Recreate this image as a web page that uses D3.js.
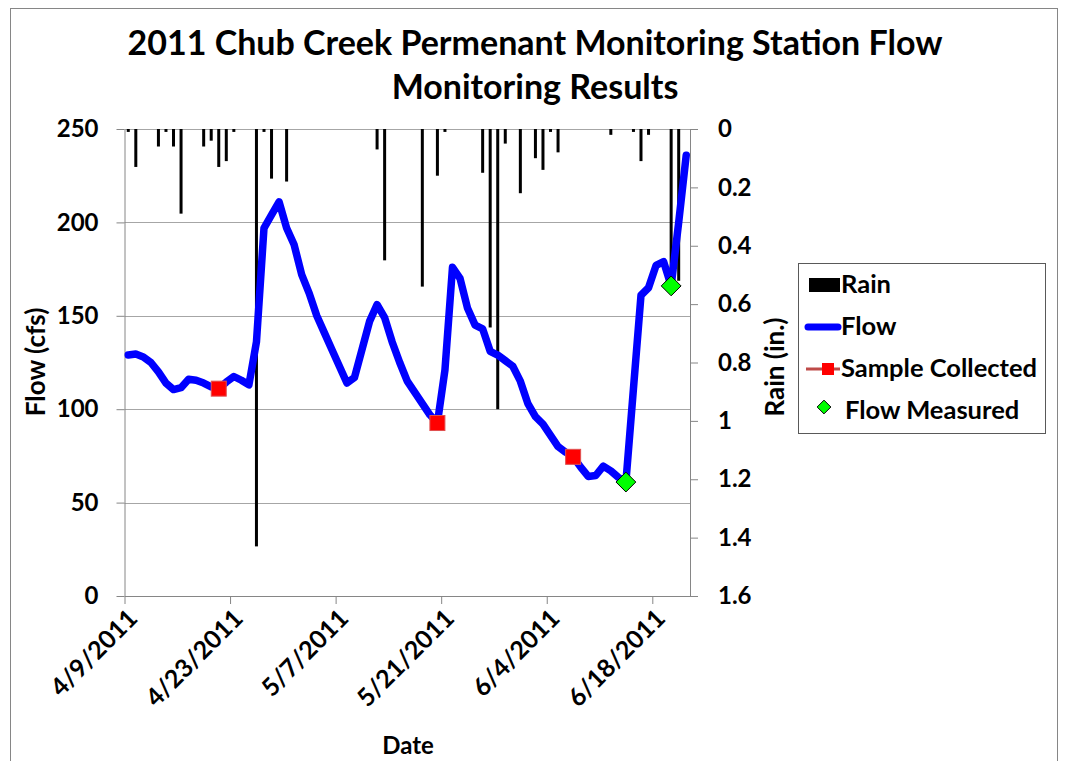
<!DOCTYPE html>
<html>
<head>
<meta charset="utf-8">
<script src="https://cdn.jsdelivr.net/npm/d3@7"></script>
<style>
body { margin: 0; background: #fff; }
svg { display: block; font-family: Lato, "Open Sans", sans-serif; font-weight: bold; }
</style>
</head>
<body>
<svg id="chart" width="1065" height="761"></svg>
<script>
// daily flow (cfs), one value per day starting 4/9/2011
var flowStart = '4/9/2011';
var flowCfs = [
    129, 129.5, 128, 125, 120, 114, 110.5, 111.5, 116, 115.5,
    114, 112, 111, 114.5, 117.5, 115.5, 113, 136, 197, 204,
    211, 197, 188, 172, 162, 150, 141, 132, 123, 114,
    117, 132, 147, 156, 149, 136, 125, 115, 109, 103,
    97, 92.6, 121, 176, 170, 154, 145, 143, 131, 129,
    126, 123, 115, 103, 96, 92, 86, 80, 77, 74.5,
    69, 64, 64.5, 69.5, 67, 63.5, 61, 111, 161, 165,
    177, 179, 166, 200, 236
];

// daily rain (in.)
var rainDates = [
    '4/9/2011', '4/10/2011', '4/13/2011', '4/14/2011', '4/15/2011', '4/16/2011',
    '4/19/2011', '4/20/2011', '4/21/2011', '4/22/2011', '4/23/2011', '4/26/2011',
    '4/27/2011', '4/28/2011', '4/30/2011', '5/12/2011', '5/13/2011', '5/18/2011',
    '5/20/2011', '5/21/2011', '5/26/2011', '5/27/2011', '5/28/2011', '5/29/2011',
    '5/31/2011', '6/2/2011', '6/3/2011', '6/4/2011', '6/5/2011', '6/12/2011',
    '6/15/2011', '6/16/2011', '6/17/2011', '6/20/2011', '6/21/2011'
];
var rainInches = [
    0.01, 0.13, 0.06, 0.01, 0.06, 0.29,
    0.06, 0.04, 0.13, 0.11, 0.01, 1.43,
    0.01, 0.17, 0.18, 0.07, 0.45, 0.54,
    0.16, 0.01, 0.15, 0.68, 0.96, 0.05,
    0.22, 0.10, 0.14, 0.01, 0.08, 0.02,
    0.01, 0.11, 0.02, 0.53, 0.52
];

var sampleDates = ['4/21/2011', '5/20/2011', '6/7/2011'];
var sampleCfs = [111, 92.6, 74.5];

var measuredDates = ['6/14/2011', '6/20/2011'];
var measuredCfs = [61, 166];

var dateTicks = ['4/9/2011', '4/23/2011', '5/7/2011', '5/21/2011', '6/4/2011', '6/18/2011'];
var flowTicks = [0, 50, 100, 150, 200, 250];
var rainTicks = [0, 0.2, 0.4, 0.6, 0.8, 1, 1.2, 1.4, 1.6];

var legendLabels = ['Rain', 'Flow', 'Sample Collected', 'Flow Measured'];

var parse = d3.timeParse('%m/%d/%Y');
var fmt = d3.timeFormat('%-m/%-d/%Y');

var svg = d3.select('#chart');
var plotL = 124.5, plotR = 690, plotT = 129, plotB = 596;

var x = d3.scaleTime()
    .domain([parse('4/9/2011'), parse('6/23/2011')])
    .range([plotL, plotR]);
// each day sits in the middle of its slot
function xc(d) { return x(d3.timeHour.offset(d, 12)); }

var yFlow = d3.scaleLinear().domain([0, 250]).range([plotB, plotT]);
var yRain = d3.scaleLinear().domain([0, 1.6]).range([plotT, plotB]);

// chart frame
svg.append('rect')
    .attr('x', 10.5).attr('y', 8.5)
    .attr('width', 1047).attr('height', 800)
    .attr('fill', '#fff').attr('stroke', '#868686');

// title
var title = svg.append('text')
    .attr('text-anchor', 'middle')
    .attr('font-size', 34);
title.append('tspan').attr('x', 535).attr('y', 55)
    .text('2011 Chub Creek Permenant Monitoring Station Flow');
title.append('tspan').attr('x', 535).attr('y', 99)
    .text('Monitoring Results');

// gridlines
svg.append('g')
    .selectAll('line')
    .data(flowTicks.slice(1))
    .enter().append('line')
    .attr('x1', plotL).attr('x2', plotR)
    .attr('y1', function(d) { return Math.round(yFlow(d)) + 0.5; })
    .attr('y2', function(d) { return Math.round(yFlow(d)) + 0.5; })
    .attr('stroke', '#a6a6a6');

// axes
function styleAxis(g) {
    g.attr('font-size', 24).attr('font-family', null);
    g.selectAll('.domain').attr('stroke', '#868686');
    g.selectAll('.tick line').attr('stroke', '#868686');
    g.selectAll('text').attr('fill', '#000');
}

svg.append('g')
    .attr('transform', 'translate(' + plotL + ',0)')
    .call(d3.axisLeft(yFlow).tickValues(flowTicks).tickSize(8).tickSizeOuter(0).tickPadding(18))
    .call(styleAxis);

svg.append('g')
    .attr('transform', 'translate(' + plotR + ',0)')
    .call(d3.axisRight(yRain).tickValues(rainTicks).tickSize(8).tickSizeOuter(0).tickPadding(20)
        .tickFormat(function(d) { return +d.toFixed(1); }))
    .call(styleAxis);

var xAxis = svg.append('g')
    .attr('transform', 'translate(0,' + plotB + ')')
    .call(d3.axisBottom(x).tickValues(dateTicks.map(parse)).tickSize(8).tickSizeOuter(0).tickFormat(fmt))
    .call(styleAxis)
    .attr('font-size', 25);
xAxis.selectAll('.tick text')
    .attr('text-anchor', 'end')
    .attr('dy', null)
    .attr('y', 0)
    .attr('transform', 'translate(14,24) rotate(-45)');

// rain bars
svg.append('g')
    .selectAll('rect')
    .data(rainDates)
    .enter().append('rect')
    .attr('x', function(d) { return xc(parse(d)) - 1.5; })
    .attr('y', plotT)
    .attr('width', 3)
    .attr('height', function(d, i) { return Math.max(2, yRain(rainInches[i]) - plotT); })
    .attr('fill', '#000');

// flow line
var line = d3.line()
    .x(function(d, i) { return xc(d3.timeDay.offset(parse(flowStart), i)); })
    .y(function(d) { return yFlow(d); });
svg.append('path')
    .datum(flowCfs)
    .attr('d', line)
    .attr('fill', 'none')
    .attr('stroke', '#0000ff')
    .attr('stroke-width', 7.5)
    .attr('stroke-linejoin', 'round')
    .attr('stroke-linecap', 'round');

// sample markers
svg.append('g')
    .selectAll('rect')
    .data(sampleDates)
    .enter().append('rect')
    .attr('x', function(d) { return xc(parse(d)) - 7.5; })
    .attr('y', function(d, i) { return yFlow(sampleCfs[i]) - 7.5; })
    .attr('width', 15).attr('height', 15)
    .attr('fill', '#ff0000')
    .attr('stroke', '#e05050').attr('stroke-width', 1);

// flow measured markers
var diamond = d3.symbol().type(d3.symbolDiamond2).size(250);
svg.append('g')
    .selectAll('path')
    .data(measuredDates)
    .enter().append('path')
    .attr('transform', function(d, i) {
        return 'translate(' + xc(parse(d)) + ',' + yFlow(measuredCfs[i]) + ')';
    })
    .attr('d', diamond)
    .attr('fill', '#00ff00')
    .attr('stroke', '#000').attr('stroke-width', 1);

// axis titles
svg.append('text')
    .attr('transform', 'translate(45,362) rotate(-90)')
    .attr('text-anchor', 'middle').attr('font-size', 26)
    .text('Flow (cfs)');
svg.append('text')
    .attr('transform', 'translate(784,367) rotate(-90)')
    .attr('text-anchor', 'middle').attr('font-size', 26)
    .text('Rain (in.)');
svg.append('text')
    .attr('x', 408).attr('y', 754)
    .attr('text-anchor', 'middle').attr('font-size', 24)
    .text('Date');

// legend
var lg = svg.append('g').attr('font-size', 25.5);
lg.append('rect')
    .attr('x', 798.5).attr('y', 263.5)
    .attr('width', 247).attr('height', 170)
    .attr('fill', '#fff').attr('stroke', '#595959');
var rowY = [285, 327, 369, 411];
lg.append('rect')
    .attr('x', 809).attr('y', rowY[0] - 7).attr('width', 31).attr('height', 14)
    .attr('fill', '#000');
lg.append('line')
    .attr('x1', 808).attr('x2', 838).attr('y1', rowY[1]).attr('y2', rowY[1])
    .attr('stroke', '#0000ff').attr('stroke-width', 7).attr('stroke-linecap', 'round');
lg.append('line')
    .attr('x1', 806).attr('x2', 840).attr('y1', rowY[2]).attr('y2', rowY[2])
    .attr('stroke', '#be4b48').attr('stroke-width', 3);
lg.append('rect')
    .attr('x', 822).attr('y', rowY[2] - 6).attr('width', 12).attr('height', 12)
    .attr('fill', '#ff0000');
lg.append('path')
    .attr('transform', 'translate(824,' + (rowY[3] - 4) + ')')
    .attr('d', d3.symbol().type(d3.symbolDiamond2).size(120))
    .attr('fill', '#00ff00').attr('stroke', '#000');
lg.selectAll('text.label')
    .data(legendLabels)
    .enter().append('text')
    .attr('class', 'label')
    .attr('x', function(d, i) { return i == 3 ? 845 : 841; })
    .attr('y', function(d, i) { return rowY[i] + 8; })
    .text(function(d) { return d; });
</script>
</body>
</html>
